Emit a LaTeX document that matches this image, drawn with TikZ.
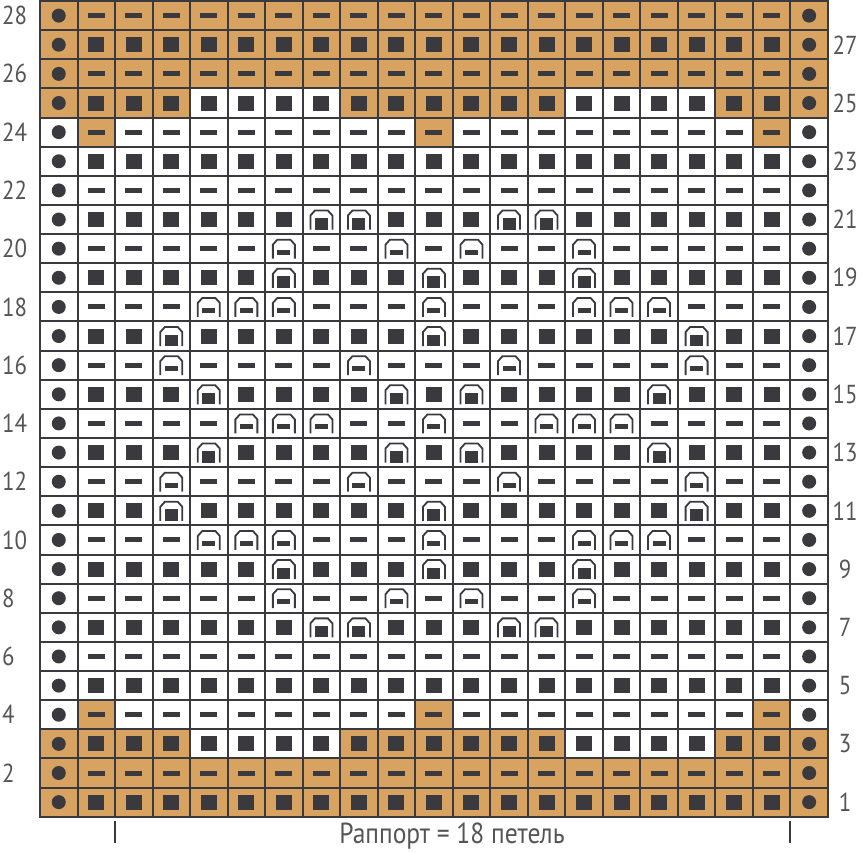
\documentclass[tikz,border=0pt]{standalone}
\usepackage{fontspec}
\setmainfont{PT Sans}[FakeStretch=0.88]
\usepackage{xcolor}
\usepackage{tikz}
\definecolor{chartorange}{RGB}{216, 162, 96}
\definecolor{ink}{RGB}{58, 58, 62}
\definecolor{labelgray}{RGB}{85, 85, 85}

\begin{document}
\begin{tikzpicture}[
    x=1pt, y=1pt,
    gridline/.style={draw=ink, line width=2pt, line cap=rect},
    band/.style={fill=chartorange},
    stitch/.style={fill=ink},
    arch/.style={draw=ink, line width=1.8pt},
    rowlabel/.style={font=\fontsize{26}{28}\selectfont, text=labelgray, inner sep=0pt},
    tick/.style={draw=ink, line width=2pt}
]
    \useasboundingbox (0,0) rectangle (865,852);
    \def\xo{40} \def\yo{35.3} \def\cw{37.52} \def\ch{29.13}

    % Orange bands
    \foreach \ri in {1,2,26,27,28}
        \fill[band] (\xo,{\yo+(\ri-1)*\ch}) rectangle ++({21*\cw},\ch);
    \foreach \ri in {3,25}
        \foreach \ci in {0,1,2,3,8,9,10,11,12,13,18,19,20}
            \fill[band] ({\xo+\ci*\cw},{\yo+(\ri-1)*\ch}) rectangle ++(\cw,\ch);
    \foreach \ri in {4,24}
        \foreach \ci in {1,10,19}
            \fill[band] ({\xo+\ci*\cw},{\yo+(\ri-1)*\ch}) rectangle ++(\cw,\ch);

    % Grid
    \foreach \ci in {0,...,21}
        \draw[gridline] ({\xo+\ci*\cw},\yo) -- ++(0,{28*\ch});
    \foreach \ri in {0,...,28}
        \draw[gridline] (\xo,{\yo+\ri*\ch}) -- ++({21*\cw},0);

    % Stitches (second value: columns with slipped stitches)
    \foreach \ri/\sl in {1/0, 2/0, 3/0, 4/0, 5/0, 6/0,
                         7/{7,8,12,13}, 8/{6,9,11,14}, 9/{6,10,14},
                         10/{4,5,6,10,14,15,16}, 11/{3,10,17}, 12/{3,8,12,17},
                         13/{4,9,11,16}, 14/{5,6,7,10,13,14,15}, 15/{4,9,11,16},
                         16/{3,8,12,17}, 17/{3,10,17}, 18/{4,5,6,10,14,15,16},
                         19/{6,10,14}, 20/{6,9,11,14}, 21/{7,8,12,13},
                         22/0, 23/0, 24/0, 25/0, 26/0, 27/0, 28/0} {
        \pgfmathsetmacro\yc{\yo+(\ri-0.5)*\ch}
        % edge stitches
        \fill[stitch] ({\xo+0.5*\cw},\yc) circle (7);
        \fill[stitch] ({\xo+20.5*\cw},\yc) circle (7);
        \foreach \ci in {1,...,19} {
            \pgfmathsetmacro\xc{\xo+(\ci+0.5)*\cw}
            \gdef\slipflag{0}
            \foreach \a in \sl {\ifnum\a=\ci\relax \gdef\slipflag{1}\fi}
            \ifnum\slipflag=1\relax
                \draw[arch, shift={(\xc,\yc)}] (-11,-10) -- (-11,4) -- (-6.5,9) -- (6.5,9) -- (11,4) -- (11,-10);
                \ifodd\ri\relax
                    \fill[stitch, shift={(\xc,\yc)}] (-6.5,-10) rectangle (6.5,1.5);
                \else
                    \fill[stitch, shift={(\xc,\yc)}] (-6.5,-6) rectangle (6.5,-1);
                \fi
            \else
                \ifodd\ri\relax
                    \fill[stitch, shift={(\xc,\yc)}] (-8,-7.5) rectangle (8,7.5);
                \else
                    \fill[stitch, shift={(\xc,\yc)}] (-8.5,-2.5) rectangle (8.5,2.5);
                \fi
            \fi
        }
    }

    % Row numbers
    \foreach \ri in {2,4,...,28}
        \node[rowlabel, anchor=west] (lab\ri) at (2,{\yo+(\ri-0.5)*\ch}) {\ri};
    \foreach \ri in {1,3,...,27}
        \node[rowlabel] (lab\ri) at (845,{\yo+(\ri-0.5)*\ch}) {\ri};

    % Repeat
    \draw[tick] (115,9) -- (115,31);
    \draw[tick] (790,9) -- (790,31);
    \node[font=\fontsize{29}{31}\selectfont, text=labelgray, anchor=base] (rapport) at (452,9) {Раппорт = 18 петель};
\end{tikzpicture}
\end{document}
